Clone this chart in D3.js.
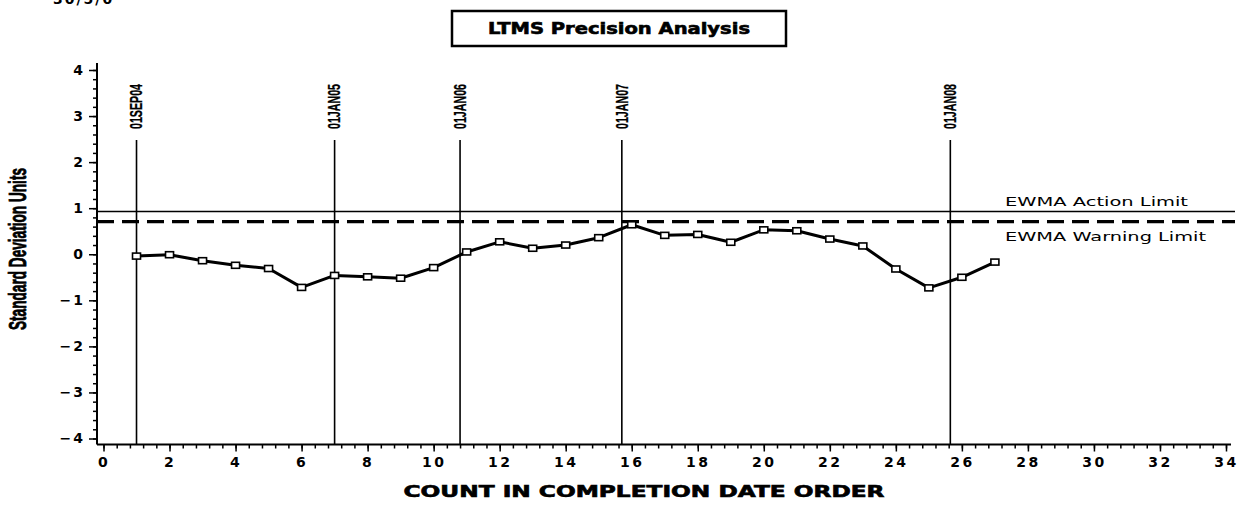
<!DOCTYPE html>
<html>
<head>
<meta charset="utf-8">
<script src="https://cdn.jsdelivr.net/npm/d3@7"></script>
<style>
  html, body { margin: 0; padding: 0; background: #fff; }
  svg { display: block; }
</style>
</head>
<body>
<svg id="chart" width="1257" height="508"></svg>
<script>
// ---- data ----
const counts = d3.range(1, 28);
const ewma = [-0.04, -0.01, -0.14, -0.24, -0.31, -0.72, -0.46, -0.49, -0.52, -0.29,
              0.05, 0.27, 0.13, 0.20, 0.36, 0.64, 0.41, 0.43, 0.26, 0.53,
              0.51, 0.33, 0.18, -0.32, -0.73, -0.50, -0.17];
const refCounts = [1, 7.0, 10.8, 15.7, 25.65];
const refLabels = ["01SEP04", "01JAN05", "01JAN06", "01JAN07", "01JAN08"];
const actionLimit = 0.93;
const warningLimit = 0.71;
const xTicks = d3.range(0, 35, 2);
const yTicks = d3.range(-4, 5, 1);
const title = "LTMS Precision Analysis";
const xTitle = "COUNT IN COMPLETION DATE ORDER";
const yTitle = "Standard Deviation Units";
const limitLabels = ["EWMA Action Limit", "EWMA Warning Limit"];

// ---- layout ----
const svg = d3.select("#chart");
const axisX = 97, axisY = 444.5, axisRight = 1231, axisTop = 63;
const x = d3.scaleLinear().domain([0, 34]).range([103.5, 1226]);
const y = d3.scaleLinear().domain([-4, 4]).range([438.5, 70]);

// top-left clipped text (cut off at the top edge, as in the reference)
svg.append("text").attr("x", 53).attr("y", 4)
  .attr("font-family", "DejaVu Sans").attr("font-weight", "bold")
  .attr("font-size", 14).attr("letter-spacing", 2).text("30/5/0");

// title box
svg.append("rect").attr("x", 452).attr("y", 11).attr("width", 334).attr("height", 35)
  .attr("fill", "none").attr("stroke", "#000").attr("stroke-width", 2.5);
svg.append("text").attr("x", 619).attr("y", 34).attr("text-anchor", "middle")
  .attr("font-family", "DejaVu Sans").attr("font-weight", "900").attr("font-size", 15)
  .attr("stroke", "#000").attr("stroke-width", 0.6)
  .attr("textLength", 262).attr("lengthAdjust", "spacingAndGlyphs").text(title);

// axes
const gx = svg.append("g").attr("transform", `translate(0,${axisY})`);
gx.call(d3.axisBottom(x).tickValues(d3.range(0, 34.01, 0.4)).tickSize(4).tickFormat(""));
gx.call(g => g.select(".domain").remove());
const gx2 = svg.append("g").attr("transform", `translate(0,${axisY})`);
gx2.call(d3.axisBottom(x).tickValues(xTicks).tickSize(7).tickPadding(6).tickFormat(d3.format("d")));
gx2.select(".domain").remove();
gx2.selectAll("text").attr("font-family", "DejaVu Sans").attr("font-weight", "bold")
  .attr("font-size", 14).attr("letter-spacing", 2.5).attr("fill", "#000");

const gy = svg.append("g").attr("transform", `translate(${axisX},0)`);
gy.call(d3.axisLeft(y).tickValues(d3.range(-4, 4.01, 0.2)).tickSize(4).tickFormat(""));
gy.select(".domain").remove();
const gy2 = svg.append("g").attr("transform", `translate(${axisX},0)`);
gy2.call(d3.axisLeft(y).tickValues(yTicks).tickSize(8).tickPadding(4)
  .tickFormat(d => d < 0 ? "\u2212" + Math.abs(d) : String(d)));
gy2.select(".domain").remove();
gy2.selectAll("text").attr("font-family", "DejaVu Sans").attr("font-weight", "bold")
  .attr("font-size", 14).attr("letter-spacing", 2).attr("fill", "#000");
svg.selectAll(".tick line").attr("stroke", "#000").attr("stroke-width", 1.5);

svg.append("line").attr("x1", axisX).attr("x2", axisX).attr("y1", axisTop).attr("y2", axisY)
  .attr("stroke", "#000").attr("stroke-width", 2);
svg.append("line").attr("x1", axisX).attr("x2", axisRight).attr("y1", axisY).attr("y2", axisY)
  .attr("stroke", "#000").attr("stroke-width", 2);

// axis titles
svg.append("text").attr("x", 644).attr("y", 497).attr("text-anchor", "middle")
  .attr("font-family", "DejaVu Sans").attr("font-weight", "900").attr("font-size", 15)
  .attr("stroke", "#000").attr("stroke-width", 0.6)
  .attr("textLength", 481).attr("lengthAdjust", "spacingAndGlyphs").text(xTitle);
svg.append("text").attr("transform", "translate(26,249) rotate(-90)").attr("text-anchor", "middle")
  .attr("font-family", "Liberation Sans").attr("font-weight", "bold").attr("font-size", 24)
  .attr("stroke", "#000").attr("stroke-width", 0.8)
  .attr("textLength", 162).attr("lengthAdjust", "spacingAndGlyphs").text(yTitle);

// limit lines
svg.append("line").attr("x1", axisX).attr("x2", 1235).attr("y1", y(actionLimit)).attr("y2", y(actionLimit))
  .attr("stroke", "#000").attr("stroke-width", 1.5);
svg.append("line").attr("x1", axisX).attr("x2", 1235).attr("y1", y(warningLimit)).attr("y2", y(warningLimit))
  .attr("stroke", "#000").attr("stroke-width", 3.2).attr("stroke-dasharray", "17,8");
svg.append("text").attr("x", 1005).attr("y", 206)
  .attr("font-family", "DejaVu Sans").attr("font-size", 13)
  .attr("textLength", 183).attr("lengthAdjust", "spacingAndGlyphs").text(limitLabels[0]);
svg.append("text").attr("x", 1005).attr("y", 241)
  .attr("font-family", "DejaVu Sans").attr("font-size", 13)
  .attr("textLength", 201).attr("lengthAdjust", "spacingAndGlyphs").text(limitLabels[1]);

// reference date lines
const refTop = 140;
refCounts.forEach((c, i) => {
  svg.append("line").attr("x1", x(c)).attr("x2", x(c)).attr("y1", refTop).attr("y2", axisY)
    .attr("stroke", "#000").attr("stroke-width", 1.6);
  svg.append("text").attr("transform", `translate(${x(c)},129) rotate(-90)`)
    .attr("dy", "0.36em")
    .attr("font-family", "Liberation Sans").attr("font-weight", "bold").attr("font-size", 16)
    .attr("stroke", "#000").attr("stroke-width", 0.3)
    .attr("textLength", 45).attr("lengthAdjust", "spacingAndGlyphs").text(refLabels[i]);
});

// series
const pts = counts.map((c, i) => [c, ewma[i]]);
svg.append("path").datum(pts)
  .attr("d", d3.line().x(d => x(d[0])).y(d => y(d[1])))
  .attr("fill", "none").attr("stroke", "#000").attr("stroke-width", 3).attr("stroke-linejoin", "round");
svg.selectAll("rect.mk").data(pts).enter().append("rect").attr("class", "mk")
  .attr("x", d => x(d[0]) - 4).attr("y", d => y(d[1]) - 3)
  .attr("width", 8).attr("height", 6)
  .attr("fill", "#fff").attr("stroke", "#000").attr("stroke-width", 1.6);
</script>
</body>
</html>
